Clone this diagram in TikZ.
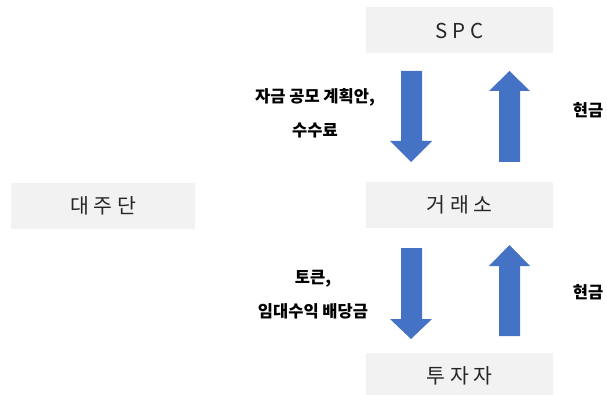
\documentclass[tikz,border=0pt]{standalone}
\usepackage{fontspec}
\setmainfont{Noto Sans CJK KR}
\definecolor{boxgray}{HTML}{F2F2F2}
\definecolor{arrowblue}{HTML}{4472C4}
\definecolor{txt}{HTML}{262626}
\tikzset{
  actor/.style={fill=boxgray, draw=none, minimum width=187pt, minimum height=46pt, inner sep=0pt,
    font=\fontsize{20.5}{24}\selectfont, text=txt},
  flowlabel/.style={font=\fontsize{16.5}{34}\selectfont\bfseries, align=center, text=black, inner sep=0pt},
  blockarrow/.style={fill=arrowblue, draw=none}
}
\begin{document}
\begin{tikzpicture}[x=1pt,y=-1pt]
\useasboundingbox (0,0) rectangle (607,395);
\clip (0,0) rectangle (607,395);
% boxes
\node[actor] (spc) at (459.5,30.5) {S\ P\ C};
\node[actor] (exch) at (459.5,205) {거\ 래\ 소};
\node[actor, minimum height=46pt] (inv) at (459.5,376) {투\ 자\ 자};
\node[actor, minimum width=184pt] (lend) at (103,206) {대\ 주\ 단};
% arrows SPC <-> exchange
\fill[blockarrow] (401,71) -- (422,71) -- (422,141) -- (432,141) -- (411,162) -- (390,141) -- (401,141) -- cycle;
\fill[blockarrow] (499,162) -- (520,162) -- (520,91) -- (530,91) -- (509.5,71) -- (489,91) -- (499,91) -- cycle;
% arrows exchange <-> investor
\fill[blockarrow] (401,248) -- (422,248) -- (422,319) -- (432,319) -- (411,339) -- (390,319) -- (401,319) -- cycle;
\fill[blockarrow] (499,336) -- (520,336) -- (520,266) -- (530,266) -- (509.5,245) -- (489,266) -- (499,266) -- cycle;
% labels
\node[flowlabel] (l1) at (315,113) {자금 공모 계획안,\\수수료};
\node[flowlabel] (c1) at (588,110) {현금};
\node[flowlabel] (l2) at (313,295) {토큰,\\임대수익 배당금};
\node[flowlabel] (c2) at (588,292) {현금};
\end{tikzpicture}
\end{document}
